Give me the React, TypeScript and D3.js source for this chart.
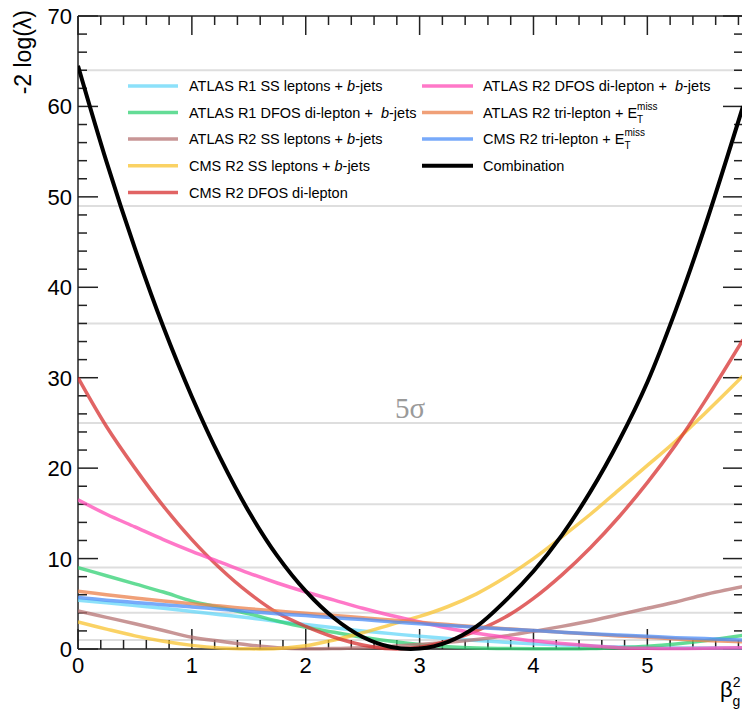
import React from "react";
import * as d3 from "d3";

const xs = [0, 0.25, 0.5, 0.75, 1, 1.25, 1.5, 1.75, 2, 2.25, 2.5, 2.75, 3, 3.25, 3.5, 3.75, 4, 4.25, 4.5, 4.75, 5, 5.25, 5.5, 5.84];

const atlasR1SS = [5.4, 5.1, 4.8, 4.5, 4.15, 3.8, 3.45, 3.05, 2.7, 2.35, 2.0, 1.7, 1.4, 1.15, 0.95, 0.75, 0.58, 0.43, 0.32, 0.22, 0.16, 0.12, 0.1, 0.1];
const atlasR1DFOS = [9.0, 8.1, 7.2, 6.3, 5.3, 4.6, 3.9, 3.1, 2.4, 1.85, 1.3, 0.85, 0.5, 0.25, 0.1, 0.05, 0.02, 0.02, 0.05, 0.15, 0.3, 0.55, 0.9, 1.5];
const atlasR2SS = [4.2, 3.5, 2.8, 2.05, 1.3, 0.85, 0.45, 0.15, 0.02, 0.05, 0.15, 0.3, 0.5, 0.75, 1.05, 1.45, 1.95, 2.5, 3.1, 3.8, 4.5, 5.2, 6.0, 6.9];
const cmsR2SS = [3.0, 2.2, 1.45, 0.85, 0.4, 0.12, 0.02, 0.05, 0.35, 1.0, 1.8, 2.7, 3.6, 4.7, 6.1, 7.9, 10.0, 12.4, 14.9, 17.6, 20.3, 23.0, 26.0, 30.2];
const cmsR2DFOS = [30.0, 24.6, 20.0, 15.8, 12.1, 8.9, 6.2, 4.0, 2.5, 1.3, 0.45, 0.02, 0.2, 0.9, 2.0, 3.5, 5.6, 8.2, 11.2, 14.6, 18.4, 22.6, 27.3, 34.2];
const atlasR2DFOS = [16.5, 14.9, 13.5, 12.1, 10.8, 9.6, 8.4, 7.3, 6.3, 5.4, 4.5, 3.7, 3.0, 2.3, 1.75, 1.3, 0.9, 0.6, 0.35, 0.15, 0.07, 0.05, 0.08, 0.15];
const atlasR2Tri = [6.4, 6.0, 5.65, 5.3, 5.0, 4.75, 4.45, 4.2, 3.95, 3.7, 3.45, 3.2, 2.95, 2.7, 2.45, 2.25, 2.05, 1.85, 1.65, 1.45, 1.3, 1.1, 0.95, 0.8];
const cmsR2Tri = [5.7, 5.4, 5.15, 4.9, 4.65, 4.4, 4.15, 3.9, 3.7, 3.45, 3.25, 3.0, 2.8, 2.6, 2.4, 2.2, 2.05, 1.85, 1.7, 1.55, 1.4, 1.25, 1.15, 1.0];
const combination = [64.5, 53.9, 44.3, 35.6, 27.9, 21.1, 15.2, 10.3, 6.4, 3.4, 1.33, 0.22, 0.05, 0.8, 2.5, 5.3, 8.6, 12.6, 17.4, 23.0, 29.5, 37.5, 46.5, 60.0];

const sigmaLevels = [1, 4, 9, 16, 25, 36, 49, 64];
const xMajorTicks = [0, 1, 2, 3, 4, 5];
const yMajorTicks = [0, 10, 20, 30, 40, 50, 60, 70];

type Series = { name: string; values: number[]; color: string; width: number; opacity: number };

const series: Series[] = [
  { name: "ATLAS R1 SS leptons + |b|-jets", values: atlasR1SS, color: "#66d7f8", width: 3.5, opacity: 0.75 },
  { name: "ATLAS R1 DFOS di-lepton +  |b|-jets", values: atlasR1DFOS, color: "#30d073", width: 3.5, opacity: 0.75 },
  { name: "ATLAS R2 SS leptons + |b|-jets", values: atlasR2SS, color: "#b67373", width: 3.5, opacity: 0.75 },
  { name: "CMS R2 SS leptons + |b|-jets", values: cmsR2SS, color: "#f8c330", width: 3.5, opacity: 0.75 },
  { name: "CMS R2 DFOS di-lepton", values: cmsR2DFOS, color: "#d73030", width: 3.5, opacity: 0.75 },
  { name: "ATLAS R2 DFOS di-lepton +  |b|-jets", values: atlasR2DFOS, color: "#ff4bb6", width: 3.5, opacity: 0.75 },
  { name: "ATLAS R2 tri-lepton + E|ETMISS", values: atlasR2Tri, color: "#eb804b", width: 3.5, opacity: 0.75 },
  { name: "CMS R2 tri-lepton + E|ETMISS", values: cmsR2Tri, color: "#4b8ef8", width: 3.5, opacity: 0.75 },
  { name: "Combination", values: combination, color: "#000000", width: 4, opacity: 1 },
];

const W = 742;
const H = 713;
const L = 78;
const R = 743;
const T = 16;
const B = 649;

const FONT = "'Liberation Sans', Arial, Helvetica, sans-serif";

function LegendLabel({ text, x, y }: { text: string; x: number; y: number }) {
  if (text.endsWith("|ETMISS")) {
    const main = text.replace("|ETMISS", "");
    return (
      <text x={x} y={y} fontFamily={FONT} fontSize={14.5} fill="#000">
        {main}
        <tspan fontSize={10} dy={-8}>miss</tspan>
        <tspan fontSize={10} dx={-20.6} dy={13}>T</tspan>
      </text>
    );
  }
  if (text.includes("|b|")) {
    const [a, b] = text.split("|b|");
    return (
      <text x={x} y={y} fontFamily={FONT} fontSize={14.5} fill="#000" style={{ whiteSpace: "pre" }}>
        {a}
        <tspan fontStyle="italic">b</tspan>
        {b}
      </text>
    );
  }
  return (
    <text x={x} y={y} fontFamily={FONT} fontSize={14.5} fill="#000">
      {text}
    </text>
  );
}

export default function App() {
  const xScale = d3.scaleLinear().domain([0, 5.84]).range([L, R]);
  const yScale = d3.scaleLinear().domain([0, 70]).range([B, T]);

  const line = d3
    .line<number>()
    .x((_, i) => xScale(xs[i]))
    .y((d) => yScale(d))
    .curve(d3.curveCatmullRom.alpha(0.5));

  const xMinor = d3.range(0, 5.84, 0.2).filter((v) => Math.abs(v - Math.round(v)) > 1e-6);
  const yMinor = d3.range(0, 70, 2).filter((v) => v % 10 !== 0);

  const legendRows1 = series.slice(0, 5);
  const legendRows2 = series.slice(5);
  const rowY1 = [86, 112.5, 139, 165.7, 192.5];

  return (
    <svg
      width={W}
      height={H}
      style={{ position: "absolute", left: 0, top: 0, background: "#fff" }}
      xmlns="http://www.w3.org/2000/svg"
    >
      <defs>
        <clipPath id="plotclip">
          <rect x={L} y={T} width={R - L} height={B - T + 3} />
        </clipPath>
      </defs>
      <rect x={0} y={0} width={W} height={H} fill="#fff" />

      {/* sigma reference lines */}
      {sigmaLevels.map((s) => (
        <line key={s} x1={L} x2={R} y1={yScale(s)} y2={yScale(s)} stroke="#dedede" strokeWidth={2} />
      ))}
      <text x={410} y={418} textAnchor="middle" fontFamily="'Liberation Serif', 'DejaVu Serif', serif" fontSize={29} fill="#9a9a9a">
        5σ
      </text>

      {/* frame and ticks */}
      <g stroke="#222" strokeWidth={1.5}>
        <line x1={L} x2={L} y1={T} y2={B} />
        <line x1={L} x2={R} y1={B} y2={B} />
        <line x1={L} x2={R} y1={T} y2={T} />
        <line x1={R} x2={R} y1={T} y2={B} />
        {xMajorTicks.map((v) => (
          <g key={"xM" + v}>
            <line x1={xScale(v)} x2={xScale(v)} y1={B} y2={B - 20} />
            <line x1={xScale(v)} x2={xScale(v)} y1={T} y2={T + 19} />
          </g>
        ))}
        {xMinor.map((v) => (
          <g key={"xm" + v}>
            <line x1={xScale(v)} x2={xScale(v)} y1={B} y2={B - 9} />
            <line x1={xScale(v)} x2={xScale(v)} y1={T} y2={T + 9} />
          </g>
        ))}
        {yMajorTicks.map((v) => (
          <g key={"yM" + v}>
            <line x1={L} x2={L + 20} y1={yScale(v)} y2={yScale(v)} />
            <line x1={R} x2={R - 20} y1={yScale(v)} y2={yScale(v)} />
          </g>
        ))}
        {yMinor.map((v) => (
          <g key={"ym" + v}>
            <line x1={L} x2={L + 9} y1={yScale(v)} y2={yScale(v)} />
            <line x1={R} x2={R - 9} y1={yScale(v)} y2={yScale(v)} />
          </g>
        ))}
      </g>

      {/* curves */}
      <g clipPath="url(#plotclip)">
        {series.map((s) => (
          <path
            key={s.name}
            d={line(s.values) || ""}
            fill="none"
            stroke={s.color}
            strokeWidth={s.width}
            strokeOpacity={s.opacity}
            strokeLinejoin="round"
          />
        ))}
      </g>

      {/* tick labels */}
      {xMajorTicks.map((v) => (
        <text key={"xl" + v} x={xScale(v)} y={673} textAnchor="middle" fontFamily={FONT} fontSize={22} fill="#000">
          {v}
        </text>
      ))}
      {yMajorTicks.map((v) => (
        <text key={"yl" + v} x={72} y={yScale(v) + 8} textAnchor="end" fontFamily={FONT} fontSize={22} fill="#000">
          {v}
        </text>
      ))}

      {/* axis titles */}
      <text
        transform="translate(31,10) rotate(-90)"
        textAnchor="end"
        fontFamily={FONT}
        fontSize={23}
        fill="#000"
      >
        -2 log(λ)
      </text>
      <text x={720} y={697} fontFamily={FONT} fontSize={22} fill="#000">
        β
        <tspan fontSize={14} dy={-10}>2</tspan>
        <tspan fontSize={14} dx={-8} dy={19}>g</tspan>
      </text>

      {/* legend */}
      {legendRows1.map((s, i) => (
        <g key={"lg1" + i}>
          <line x1={128} x2={178} y1={rowY1[i]} y2={rowY1[i]} stroke={s.color} strokeOpacity={s.opacity} strokeWidth={s.width} />
          <LegendLabel text={s.name} x={189} y={rowY1[i] + 5} />
        </g>
      ))}
      {legendRows2.map((s, i) => (
        <g key={"lg2" + i}>
          <line x1={422} x2={473} y1={rowY1[i]} y2={rowY1[i]} stroke={s.color} strokeOpacity={s.opacity} strokeWidth={s.width} />
          <LegendLabel text={s.name} x={483} y={rowY1[i] + 5} />
        </g>
      ))}
    </svg>
  );
}
